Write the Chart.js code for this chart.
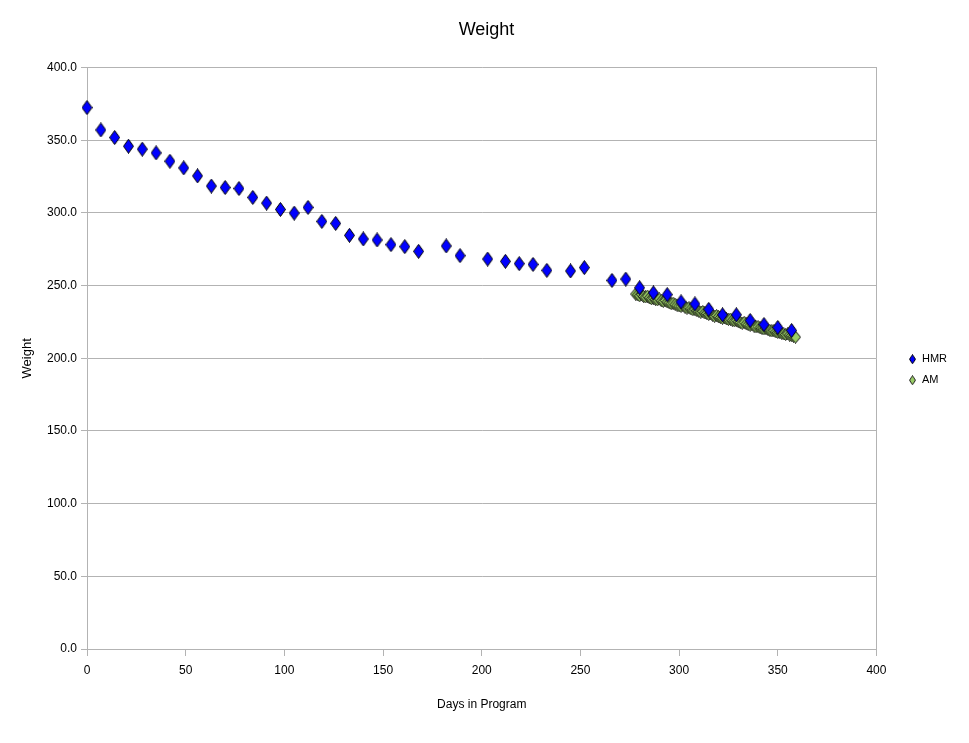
<!DOCTYPE html>
<html>
<head>
<meta charset="utf-8">
<title>Weight</title>
<script src="https://cdn.jsdelivr.net/npm/chart.js@4.4.1/dist/chart.umd.min.js"></script>
<style>
  html, body { margin: 0; padding: 0; background: #fff; }
  #wrap { width: 969px; height: 743px; }
</style>
</head>
<body>
<div id="wrap"><canvas id="weightChart" width="969" height="743"></canvas></div>
<script>
// --- data ---
const hmrDays = [0, 7, 14, 21, 28, 35, 42, 49, 56, 63, 70, 77, 84, 91, 98, 105, 112, 119, 126,
  133, 140, 147, 154, 161, 168, 182, 189, 203, 212, 219, 226, 233, 245, 252, 266, 273,
  280, 287, 294, 301, 308, 315, 322, 329, 336, 343, 350, 357];
const hmrWeight = [372.5, 357.1, 351.9, 345.9, 343.9, 341.3, 335.6, 331.0, 325.5, 318.5, 317.5,
  316.8, 310.7, 306.8, 302.4, 299.9, 303.8, 294.2, 292.8, 284.6, 282.1, 281.4, 278.2, 276.8,
  273.6, 277.3, 270.6, 268.3, 266.7, 265.1, 264.6, 260.5, 260.1, 262.4, 253.6, 254.5, 248.5,
  245.0, 243.8, 238.8, 237.4, 233.7, 229.9, 229.9, 226.0, 223.2, 221.2, 219.1];

const amDays = [278, 279, 280, 281, 282, 283, 284, 285, 286, 287, 288, 289, 290, 291, 292, 293,
  294, 295, 296, 297, 298, 299, 300, 301, 302, 303, 304, 305, 306, 307, 308, 309, 310, 311,
  312, 313, 314, 315, 316, 317, 318, 319, 320, 321, 322, 323, 324, 325, 326, 327, 328, 329,
  330, 331, 332, 333, 334, 335, 336, 337, 338, 339, 340, 341, 342, 343, 344, 345, 346, 347,
  348, 349, 350, 351, 352, 353, 354, 355, 356, 357, 358, 359];
const amWeight = [244.2, 243.6, 243.0, 243.8, 242.6, 242.2, 242.8, 241.6, 241.0, 241.4, 240.6,
  240.2, 240.8, 239.6, 239.2, 239.8, 238.8, 238.2, 237.6, 238.0, 237.2, 236.6, 236.0, 235.8,
  236.4, 235.2, 234.6, 234.8, 234.0, 233.4, 233.8, 232.8, 232.4, 231.8, 232.2, 231.2, 230.8,
  230.2, 230.6, 229.6, 229.0, 229.4, 228.6, 228.0, 227.6, 228.0, 227.2, 226.8, 227.0, 226.2,
  225.8, 226.2, 225.2, 224.6, 224.2, 224.8, 223.8, 223.2, 222.8, 223.0, 222.2, 221.6, 221.8,
  221.0, 220.6, 220.2, 220.6, 219.8, 219.2, 218.8, 219.0, 218.2, 217.8, 218.0, 217.2, 216.8,
  216.4, 216.8, 216.0, 215.6, 215.2, 214.6];

const seriesNames = ['HMR', 'AM'];
const xTicks = [0, 50, 100, 150, 200, 250, 300, 350, 400];
const yTicks = [0, 50, 100, 150, 200, 250, 300, 350, 400];

// --- tall diamond markers ---
function diamond(w, h, fill, stroke) {
  const c = document.createElement('canvas');
  c.width = w; c.height = h;
  const ctx = c.getContext('2d');
  ctx.beginPath();
  ctx.moveTo(w / 2, 0.5);
  ctx.lineTo(w - 0.5, h / 2);
  ctx.lineTo(w / 2, h - 0.5);
  ctx.lineTo(0.5, h / 2);
  ctx.closePath();
  ctx.fillStyle = fill;
  ctx.fill();
  ctx.lineWidth = 1;
  ctx.strokeStyle = stroke;
  ctx.stroke();
  return c;
}
const hmrMark = diamond(11, 15, '#0000ff', '#000000');
const amMark = diamond(11, 13, '#99cc66', '#111111');
const legendMarks = [diamond(7, 10, '#0000ff', '#000000'), diamond(7, 10, '#99cc66', '#222222')];

const FONT = "'Liberation Sans', Arial, sans-serif";
const GRID = '#b3b3b3';

new Chart(document.getElementById('weightChart'), {
  type: 'scatter',
  data: {
    datasets: [
      {
        label: seriesNames[0],
        data: hmrDays.map((d, i) => ({ x: d, y: hmrWeight[i] })),
        pointStyle: hmrMark,
        pointRadius: 6,
        clip: false
      },
      {
        label: seriesNames[1],
        data: amDays.map((d, i) => ({ x: d, y: amWeight[i] })),
        pointStyle: amMark,
        pointRadius: 5,
        clip: false
      }
    ]
  },
  options: {
    responsive: false,
    animation: false,
    layout: { padding: { left: 16, right: 12, top: 0, bottom: 28 } },
    plugins: {
      title: {
        display: true,
        text: 'Weight',
        color: '#000',
        font: { family: FONT, size: 18, weight: 'normal' },
        padding: { top: 19, bottom: 27 }
      },
      legend: {
        position: 'right',
        title: { display: true, text: ' ', font: { size: 12 }, padding: 5 },
        labels: {
          usePointStyle: true,
          pointStyleWidth: 8,
          color: '#000',
          padding: 10,
          font: { family: FONT, size: 11 },
          generateLabels: (chart) => seriesNames.map((n, i) => ({
            text: n,
            pointStyle: legendMarks[i],
            datasetIndex: i,
            hidden: false,
            fontColor: '#000',
            lineWidth: 0
          }))
        }
      },
      tooltip: { enabled: false }
    },
    scales: {
      x: {
        type: 'linear',
        min: 0,
        max: 400,
        afterBuildTicks: (s) => { s.ticks = xTicks.map(v => ({ value: v })); },
        afterFit: (s) => { s.height = 66; },
        ticks: { color: '#000', padding: 7, font: { family: FONT, size: 12 } },
        grid: { drawOnChartArea: false, tickLength: 7, color: GRID },
        border: { color: GRID },
        title: {
          display: true,
          text: 'Days in Program',
          color: '#000',
          font: { family: FONT, size: 12 },
          padding: { top: 4, bottom: 3 }
        }
      },
      y: {
        min: 0,
        max: 400,
        afterBuildTicks: (s) => { s.ticks = yTicks.map(v => ({ value: v })); },
        afterFit: (s) => { s.width = 71; },
        ticks: {
          color: '#000',
          padding: 4,
          font: { family: FONT, size: 12 },
          callback: (v) => Number(v).toFixed(1)
        },
        grid: { color: GRID, tickLength: 6 },
        border: { color: GRID },
        title: {
          display: true,
          text: 'Weight',
          color: '#000',
          font: { family: FONT, size: 13 },
          padding: { top: 4, bottom: 4 }
        }
      },
      // empty right axis: gives the plot its right frame line and the gap before the legend
      yRight: {
        position: 'right',
        min: 0,
        max: 400,
        afterFit: (s) => { s.width = 22; },
        ticks: { display: false },
        grid: { drawOnChartArea: false, drawTicks: false },
        border: { color: GRID }
      }
    }
  }
});
</script>
</body>
</html>
